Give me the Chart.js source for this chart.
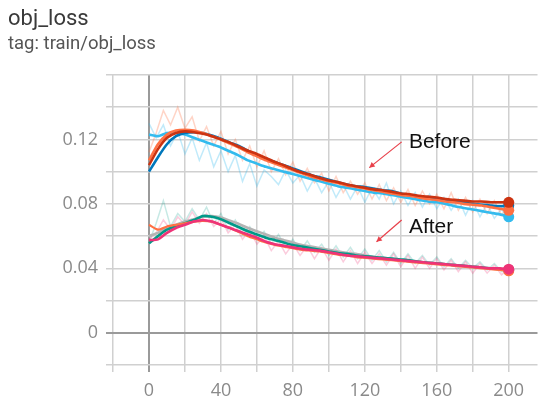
<!DOCTYPE html>
<html lang="en">
    <head>
        <meta charset="utf-8" />
        <title>obj_loss</title>
        <style>
            body { margin: 0; background: #fff; width: 543px; height: 399px; overflow: hidden; position: relative; }
            #titulo { position: absolute; left: 8px; top: 5px; font: 22px Roboto, sans-serif; color: #3a3a3a; }
            #tag { position: absolute; left: 8px; top: 32px; font: 18.5px Roboto, sans-serif; color: #555; }
            #grafico { position: absolute; left: 0; top: 0; }
        </style>
    </head>
    <body>
        <canvas id="grafico" width="543" height="399"></canvas>
        <div id="titulo">obj_loss</div>
        <div id="tag">tag: train/obj_loss</div>
        <script src="https://cdn.jsdelivr.net/npm/chart.js@4.4.1/dist/chart.umd.min.js"></script>
        <script>
            // smoothed runs, every 5 steps
            var epochs = [0, 5, 10, 15, 20, 25, 30, 35, 40, 45, 50, 55, 60, 65, 70, 75, 80, 85, 90, 95, 100, 105, 110, 115, 120, 125, 130, 135, 140, 145, 150, 155, 160, 165, 170, 175, 180, 185, 190, 195, 200];
            var beforeBlue = [0.100, 0.109, 0.117, 0.122, 0.124, 0.1245, 0.124, 0.1225, 0.1205, 0.118, 0.116, 0.113, 0.110, 0.108, 0.106, 0.104, 0.102, 0.100, 0.098, 0.0965, 0.095, 0.0935, 0.092, 0.091, 0.0905, 0.0895, 0.0885, 0.088, 0.0865, 0.0855, 0.0845, 0.0838, 0.083, 0.0825, 0.082, 0.081, 0.080, 0.0795, 0.079, 0.0785, 0.079];
            var beforeOrange = [0.107, 0.117, 0.123, 0.1255, 0.126, 0.1255, 0.124, 0.122, 0.120, 0.1175, 0.115, 0.112, 0.1095, 0.107, 0.105, 0.103, 0.101, 0.099, 0.097, 0.0955, 0.094, 0.093, 0.0915, 0.0905, 0.0895, 0.0885, 0.0875, 0.0865, 0.0855, 0.085, 0.084, 0.083, 0.0825, 0.0815, 0.081, 0.080, 0.0795, 0.079, 0.078, 0.077, 0.076];
            var beforeRed = [0.104, 0.114, 0.121, 0.124, 0.125, 0.1245, 0.1235, 0.122, 0.120, 0.118, 0.1155, 0.113, 0.111, 0.1085, 0.106, 0.104, 0.1015, 0.0995, 0.098, 0.096, 0.0945, 0.0935, 0.092, 0.091, 0.090, 0.089, 0.0885, 0.0875, 0.0865, 0.086, 0.085, 0.0845, 0.084, 0.083, 0.0825, 0.082, 0.0815, 0.0815, 0.081, 0.081, 0.081];
            var beforeCyan = [0.123, 0.122, 0.124, 0.124, 0.123, 0.121, 0.119, 0.117, 0.115, 0.1125, 0.110, 0.107, 0.105, 0.103, 0.1015, 0.100, 0.0985, 0.097, 0.0955, 0.094, 0.0925, 0.091, 0.090, 0.089, 0.088, 0.087, 0.0865, 0.0855, 0.0845, 0.0835, 0.0825, 0.0815, 0.081, 0.080, 0.0785, 0.0775, 0.0765, 0.0755, 0.0745, 0.0735, 0.072];
            var afterTeal = [0.0555, 0.060, 0.064, 0.066, 0.068, 0.070, 0.0725, 0.072, 0.0705, 0.068, 0.0655, 0.063, 0.061, 0.059, 0.0575, 0.056, 0.0545, 0.0535, 0.0525, 0.0515, 0.0505, 0.0495, 0.049, 0.048, 0.0475, 0.047, 0.0465, 0.046, 0.0455, 0.045, 0.044, 0.0435, 0.043, 0.0425, 0.042, 0.0415, 0.041, 0.0405, 0.040, 0.0395, 0.039];
            var afterPink = [0.0575, 0.058, 0.062, 0.065, 0.067, 0.069, 0.070, 0.069, 0.067, 0.065, 0.063, 0.061, 0.059, 0.0565, 0.055, 0.054, 0.053, 0.052, 0.0515, 0.051, 0.050, 0.049, 0.048, 0.0475, 0.047, 0.0465, 0.046, 0.0455, 0.045, 0.0445, 0.044, 0.0435, 0.043, 0.0425, 0.042, 0.0415, 0.041, 0.0405, 0.040, 0.040, 0.0395];
            var afterGray = [0.060, 0.062, 0.065, 0.067, 0.069, 0.0705, 0.072, 0.0725, 0.0715, 0.0695, 0.0675, 0.065, 0.063, 0.061, 0.059, 0.0575, 0.056, 0.0545, 0.0535, 0.0525, 0.0515, 0.0505, 0.0495, 0.049, 0.048, 0.047, 0.0465, 0.046, 0.045, 0.0445, 0.044, 0.0435, 0.043, 0.0425, 0.042, 0.0415, 0.041, 0.0405, 0.040, 0.0395, 0.039];
            var afterOrange = [0.067, 0.064, 0.066, 0.067, 0.068, 0.069, 0.0695, 0.069, 0.067, 0.065, 0.0625, 0.060, 0.058, 0.056, 0.0545, 0.0535, 0.0525, 0.0515, 0.051, 0.0505, 0.0495, 0.0485, 0.048, 0.047, 0.0465, 0.046, 0.0455, 0.045, 0.0445, 0.044, 0.0435, 0.043, 0.0425, 0.042, 0.0415, 0.041, 0.0405, 0.040, 0.0395, 0.039, 0.0385];

            // raw (unsmoothed) runs, every 4 steps
            var epochsRaw = [0, 4, 8, 12, 16, 20, 24, 28, 32, 36, 40, 44, 48, 52, 56, 60, 64, 68, 72, 76, 80, 84, 88, 92, 96, 100, 104, 108, 112, 116, 120, 124, 128, 132, 136, 140, 144, 148, 152, 156, 160, 164, 168, 172, 176, 180, 184, 188, 192, 196, 200];
            var rawBeforeOrange = [0.112, 0.124, 0.138, 0.129, 0.140, 0.127, 0.134, 0.119, 0.128, 0.116, 0.125, 0.111, 0.120, 0.107, 0.116, 0.103, 0.113, 0.100, 0.108, 0.098, 0.106, 0.094, 0.102, 0.093, 0.099, 0.088, 0.097, 0.087, 0.094, 0.086, 0.093, 0.083, 0.092, 0.082, 0.090, 0.081, 0.089, 0.079, 0.088, 0.080, 0.086, 0.077, 0.087, 0.076, 0.084, 0.075, 0.083, 0.074, 0.082, 0.073, 0.079];
            var rawBeforeCyan = [0.130, 0.121, 0.129, 0.116, 0.125, 0.111, 0.121, 0.107, 0.118, 0.103, 0.113, 0.100, 0.110, 0.094, 0.105, 0.091, 0.101, 0.097, 0.092, 0.101, 0.093, 0.098, 0.088, 0.096, 0.087, 0.094, 0.084, 0.092, 0.083, 0.091, 0.081, 0.090, 0.083, 0.093, 0.080, 0.088, 0.079, 0.087, 0.078, 0.086, 0.077, 0.084, 0.076, 0.083, 0.073, 0.082, 0.072, 0.080, 0.071, 0.077, 0.069];
            var rawAfterPink = [0.058, 0.062, 0.070, 0.064, 0.072, 0.067, 0.075, 0.068, 0.074, 0.066, 0.071, 0.062, 0.067, 0.058, 0.064, 0.055, 0.060, 0.051, 0.057, 0.049, 0.055, 0.048, 0.054, 0.046, 0.053, 0.045, 0.052, 0.044, 0.051, 0.043, 0.050, 0.043, 0.049, 0.042, 0.049, 0.041, 0.048, 0.040, 0.047, 0.040, 0.046, 0.039, 0.045, 0.038, 0.044, 0.037, 0.043, 0.037, 0.042, 0.036, 0.040];
            var rawAfterTeal = [0.056, 0.068, 0.082, 0.066, 0.074, 0.069, 0.077, 0.070, 0.078, 0.068, 0.074, 0.064, 0.070, 0.061, 0.066, 0.058, 0.063, 0.055, 0.061, 0.053, 0.058, 0.051, 0.057, 0.050, 0.055, 0.048, 0.054, 0.047, 0.053, 0.046, 0.052, 0.045, 0.051, 0.044, 0.050, 0.043, 0.049, 0.043, 0.048, 0.042, 0.047, 0.041, 0.046, 0.040, 0.045, 0.040, 0.044, 0.039, 0.043, 0.038, 0.039];

            var yTicks = [-0.02, 0, 0.02, 0.04, 0.06, 0.08, 0.1, 0.12, 0.14, 0.16];
            var yLabels = ["", "0", "", "0.04", "", "0.08", "", "0.12", "", ""];
            var xTicks = [-20, 0, 20, 40, 60, 80, 100, 120, 140, 160, 180, 200];
            var xLabels = ["", "0", "", "40", "", "80", "", "120", "", "160", "", "200"];

            // callouts in data units: [text, textX, textY, fromX, fromY, toX, toY]
            var callouts = [
                ["Before", 144.5, 0.118, 140.5, 0.1185, 122.5, 0.1025],
                ["After", 144.5, 0.0655, 140.5, 0.070, 126.5, 0.0565]
            ];

            function pts(xs, ys) {
                return xs.map(function (x, i) { return { x: x, y: ys[i] }; });
            }
            function linea(datos, color, ancho, punto) {
                return {
                    data: datos,
                    borderColor: color,
                    backgroundColor: color,
                    borderWidth: ancho,
                    pointRadius: function (c) { return punto && c.dataIndex === datos.length - 1 ? 5.5 : 0; },
                    pointBorderWidth: 0,
                    tension: punto ? 0.2 : 0
                };
            }

            var flechas = {
                id: "flechas",
                afterDatasetsDraw: function (chart) {
                    var ctx = chart.ctx, x = chart.scales.x, y = chart.scales.y;
                    ctx.save();
                    callouts.forEach(function (c) {
                        var x1 = x.getPixelForValue(c[3]), y1 = y.getPixelForValue(c[4]);
                        var x2 = x.getPixelForValue(c[5]), y2 = y.getPixelForValue(c[6]);
                        ctx.strokeStyle = "#e8404a";
                        ctx.fillStyle = "#e8404a";
                        ctx.lineWidth = 1.2;
                        ctx.beginPath();
                        ctx.moveTo(x1, y1);
                        ctx.lineTo(x2, y2);
                        ctx.stroke();
                        var a = Math.atan2(y2 - y1, x2 - x1);
                        ctx.beginPath();
                        ctx.moveTo(x2, y2);
                        ctx.lineTo(x2 - 6 * Math.cos(a - 0.5), y2 - 6 * Math.sin(a - 0.5));
                        ctx.lineTo(x2 - 6 * Math.cos(a + 0.5), y2 - 6 * Math.sin(a + 0.5));
                        ctx.closePath();
                        ctx.fill();
                        ctx.fillStyle = "#111";
                        ctx.font = "21px 'Liberation Sans', sans-serif";
                        ctx.textBaseline = "middle";
                        ctx.fillText(c[0], x.getPixelForValue(c[1]), y.getPixelForValue(c[2]));
                    });
                    ctx.restore();
                }
            };

            new Chart(document.getElementById("grafico").getContext("2d"), {
                type: "line",
                data: {
                    datasets: [
                        linea(pts(epochs, beforeRed), "#cc3311", 2.6, true),
                        linea(pts(epochs, beforeOrange), "#ff7043", 2.6, true),
                        linea(pts(epochs, beforeBlue), "#0077bb", 2.6, true),
                        linea(pts(epochs, beforeCyan), "#33bbee", 2.6, true),
                        linea(pts(epochs, afterPink), "#ee3377", 2.6, true),
                        linea(pts(epochs, afterOrange), "#ff7043", 2.2, true),
                        linea(pts(epochs, afterTeal), "#009988", 2.6, true),
                        linea(pts(epochs, afterGray), "#b4b4b4", 2.6, true),
                        linea(pts(epochsRaw, rawBeforeOrange), "rgba(255,112,67,0.3)", 1.5, false),
                        linea(pts(epochsRaw, rawBeforeCyan), "rgba(51,187,238,0.3)", 1.5, false),
                        linea(pts(epochsRaw, rawAfterPink), "rgba(238,51,119,0.25)", 1.5, false),
                        linea(pts(epochsRaw, rawAfterTeal), "rgba(0,153,136,0.22)", 1.5, false)
                    ]
                },
                options: {
                    responsive: false,
                    animation: false,
                    devicePixelRatio: 1,
                    layout: { padding: { top: 75, right: 0, left: 0, bottom: 0 } },
                    plugins: { legend: { display: false }, tooltip: { enabled: false } },
                    scales: {
                        x: {
                            type: "linear",
                            min: -20,
                            max: 216,
                            afterBuildTicks: function (s) { s.ticks = xTicks.map(function (v) { return { value: v }; }); },
                            afterFit: function (s) { s.height = 34; },
                            border: { display: false },
                            grid: {
                                color: function (c) { return c.tick && c.tick.value === 0 ? "#9a9a9a" : "#d0d0d0"; },
                                lineWidth: function (c) { return c.tick && c.tick.value === 0 ? 2 : 1.5; },
                                tickLength: 7
                            },
                            ticks: {
                                padding: 8,
                                color: "#8a8a8a",
                                font: { family: "'Open Sans', sans-serif", size: 18 },
                                maxRotation: 0,
                                callback: function (v, i) { return xLabels[i]; }
                            }
                        },
                        y: {
                            min: -0.02,
                            max: 0.16,
                            afterBuildTicks: function (s) { s.ticks = yTicks.map(function (v) { return { value: v }; }); },
                            afterFit: function (s) { s.width = 113; },
                            border: { display: false },
                            grid: {
                                color: function (c) { return c.tick && c.tick.value === 0 ? "#9a9a9a" : "#d0d0d0"; },
                                lineWidth: function (c) { return c.tick && c.tick.value === 0 ? 2 : 1.5; },
                                tickLength: 7
                            },
                            ticks: {
                                padding: 8,
                                color: "#8a8a8a",
                                font: { family: "'Open Sans', sans-serif", size: 18 },
                                callback: function (v, i) { return yLabels[i]; }
                            }
                        }
                    }
                },
                plugins: [flechas]
            });
        </script>
    </body>
</html>
